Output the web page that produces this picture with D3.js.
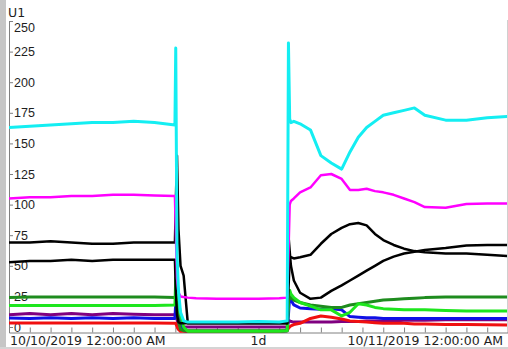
<!DOCTYPE html>
<html>
<head>
<meta charset="utf-8">
<script src="https://cdn.jsdelivr.net/npm/d3@7/dist/d3.min.js"></script>
<style>
  html, body { margin: 0; padding: 0; background: #fff; }
  svg { display: block; font-family: "DejaVu Sans", Verdana, sans-serif; }
  .axis text { fill: #1e1e1e; font-size: 12.5px; }
  .axis line, .axis path { stroke: #808080; }
</style>
</head>
<body>
<div id="chart"></div>
<script>
// hours since 10/10/2019 12:00:00 AM
const hours = [0, 1, 2, 3, 4, 5, 6, 7, 7.98, 8.02, 8.08, 8.15, 8.25, 8.4, 8.6, 9, 10, 11, 12, 13,
  13.38, 13.44, 13.5, 13.56, 13.7, 14, 14.5, 15, 15.5, 16, 16.4, 16.8, 17.2, 17.6, 18, 18.5, 19, 19.5, 20, 21, 22, 23, 24];

const cyan = [163, 164, 165, 166, 167, 167, 168, 167, 165, 228, 60, 30, 12, 5, 4, 4, 4, 4, 4.5, 4,
  5, 232, 170, 167, 168, 166, 161, 140, 134, 129, 143, 155, 163, 168, 173, 175, 177, 179, 173, 169, 169, 171, 172];
const magenta = [105, 106, 106, 107, 107, 108, 108, 107.5, 107, 80, 40, 28, 25, 24.5, 24, 23.5, 23, 23, 23, 23.5,
  24, 60, 100, 103, 105, 110, 114, 124, 125, 121, 112, 112, 113, 111, 110, 108, 105, 102, 98, 97.5, 100.5, 101, 101];
const blackA = [69, 69, 70, 69, 68, 68, 69, 69, 69, 100, 140, 80, 50, 42, 3, 3, 3, 3, 3, 3,
  3, 30, 56, 57, 56, 57, 59, 68, 76, 81, 84, 85, 83, 76, 71, 67, 64, 62, 61, 60, 60, 59, 58];
const blackB = [53, 54, 54, 55, 54, 55, 55, 55, 55, 30, 10, 4, 3, 3, 3, 3, 3, 3, 3, 3,
  3, 75, 62, 50, 38, 28, 23, 24, 29.5, 34, 38, 42, 46, 50, 54, 57.5, 60, 61.5, 63, 64.5, 66.5, 67, 67];
const darkGreen = [24, 24.5, 24.5, 24.5, 24.5, 24.5, 24.5, 24.5, 24, 24, 15, 5, -2, -3, -3, -3, -3, -3, -3, -3,
  -3, 20, 25, 24, 22, 20, 18, 17, 16, 16, 18, 19, 20, 21, 22, 22.5, 23, 23.5, 24, 24.5, 24.5, 24.5, 24.5];
const green = [17.5, 17.5, 17.5, 17.5, 17.5, 17.5, 17.5, 17.5, 18, 40, 30, 22, 10, 0, -3.5, -3.5, -3.5, -3.5, -3.5, -3.5,
  -3, 28, 30, 27, 24, 20, 17, 14, 14, 9, 12, 19, 18, 16, 15, 14.5, 14, 14, 14, 13.5, 13, 13, 13];
const blue = [7.3, 7, 7.5, 7, 7.5, 7, 7.5, 7, 7, 20, 35, 20, 5, -3, -4, -4, -4, -4, -4, -4,
  -3, 10, 25, 22, 18, 15.5, 15, 14.5, 15, 14, 8.5, 8, 7.5, 7.5, 7, 7, 7, 7, 7, 7, 7, 7, 7];
const purple = [10, 11, 10, 11, 10, 11, 10.5, 10, 10, 12, 6, 2, 0, 0, 0, 0, 0, 0, 0, 0,
  0, 4, 5, 4.5, 4, 4, 4, 4, 4, 4.5, 4.5, 4.5, 5, 5, 5, 5, 5.5, 5.5, 5.5, 6, 6, 6, 6];
const red = [3.3, 3.3, 3.3, 3.3, 3.3, 3.3, 3.3, 3.3, 3, 3, 0, -2, -3.5, -3.5, -3.5, -3.5, -3.5, -3.5, -3.5, -3.5,
  -3, -1, 0, 1, 2, 3, 7, 9, 8, 6.5, 5, 4.5, 4, 3.5, 3, 3, 3, 2.5, 2.5, 2, 2, 1.8, 1.6];

const yTicks = [0, 25, 50, 75, 100, 125, 150, 175, 200, 225, 250];
const xLabels = ["10/10/2019 12:00:00 AM", "1d", "10/11/2019 12:00:00 AM"];
const yTitle = "U1";

// draw order: bottom first
const series = [
  { name: "purple", values: purple, color: "#800080", w: 3 },
  { name: "blue", values: blue, color: "#1010e6", w: 3 },
  { name: "red", values: red, color: "#f01010", w: 3 },
  { name: "darkGreen", values: darkGreen, color: "#1e8c1e", w: 3 },
  { name: "green", values: green, color: "#1ee61e", w: 3 },
  { name: "blackB", values: blackB, color: "#000000", w: 2.5 },
  { name: "blackA", values: blackA, color: "#000000", w: 2.5 },
  { name: "magenta", values: magenta, color: "#ff00ff", w: 2.5 },
  { name: "cyan", values: cyan, color: "#14eef2", w: 3 }
];

const width = 508, height = 349;
const t0 = new Date(2019, 9, 10);
const toDate = h => new Date(t0.getTime() + h * 3600 * 1000);

const svg = d3.select('#chart').append('svg')
  .attr('width', width)
  .attr('height', height);

// left grey strip and bottom border
svg.append('rect').attr('x', 0).attr('y', 0).attr('width', 6).attr('height', height).attr('fill', '#c6c6c6');
svg.append('rect').attr('x', 0).attr('y', 347).attr('width', width).attr('height', 2).attr('fill', '#d4d4d4');
svg.append('line').attr('x1', 507.5).attr('x2', 507.5).attr('y1', 20).attr('y2', 333).attr('stroke', '#d0d0d0');

const x = d3.scaleTime()
  .domain([toDate(0), toDate(24)])
  .range([9, 508]);

const y = d3.scaleLinear()
  .domain([0, 250])
  .range([327, 21]);

svg.append('defs').append('clipPath').attr('id', 'plot')
  .append('rect').attr('x', 9).attr('y', 20).attr('width', 498).attr('height', 313);

// y axis, ticks and labels inside the plot
const yAxis = svg.append('g').attr('class', 'axis')
  .attr('transform', 'translate(9,0)')
  .call(d3.axisRight(y).tickValues(yTicks).tickSize(4).tickPadding(1).tickFormat(d3.format('d')));
yAxis.select('.domain').remove();
yAxis.selectAll('.tick text').attr('dy', d => d === 250 ? '0.85em' : '0.32em');
svg.append('line').attr('x1', 9.5).attr('x2', 9.5).attr('y1', 21).attr('y2', 333).attr('stroke', '#808080');

svg.append('text').attr('x', 8).attr('y', 17)
  .attr('fill', '#1e1e1e').style('font-size', '12.5px').text(yTitle);

// x axis, hourly ticks pointing up
const xAxis = svg.append('g').attr('class', 'axis')
  .attr('transform', 'translate(0,332.5)')
  .call(d3.axisTop(x).ticks(d3.timeHour.every(1)).tickSize(5).tickFormat(''));
xAxis.select('.domain').attr('stroke', '#a0a0a0');

const labelG = svg.append('g').attr('class', 'axis');
labelG.append('text').attr('x', 10).attr('y', 345).attr('text-anchor', 'start').text(xLabels[0]);
labelG.append('text').attr('x', x(toDate(12))).attr('y', 345).attr('text-anchor', 'middle').text(xLabels[1]);
labelG.append('text').attr('x', 503).attr('y', 345).attr('text-anchor', 'end').text(xLabels[2]);

const line = d3.line()
  .x((d, i) => x(toDate(hours[i])))
  .y(d => y(d));

const g = svg.append('g').attr('clip-path', 'url(#plot)');
g.selectAll('.series').data(series)
  .enter().append('path')
  .attr('class', 'series')
  .attr('fill', 'none')
  .attr('stroke', d => d.color)
  .attr('stroke-width', d => d.w)
  .attr('stroke-linejoin', 'round')
  .attr('d', d => line(d.values));
</script>
</body>
</html>
